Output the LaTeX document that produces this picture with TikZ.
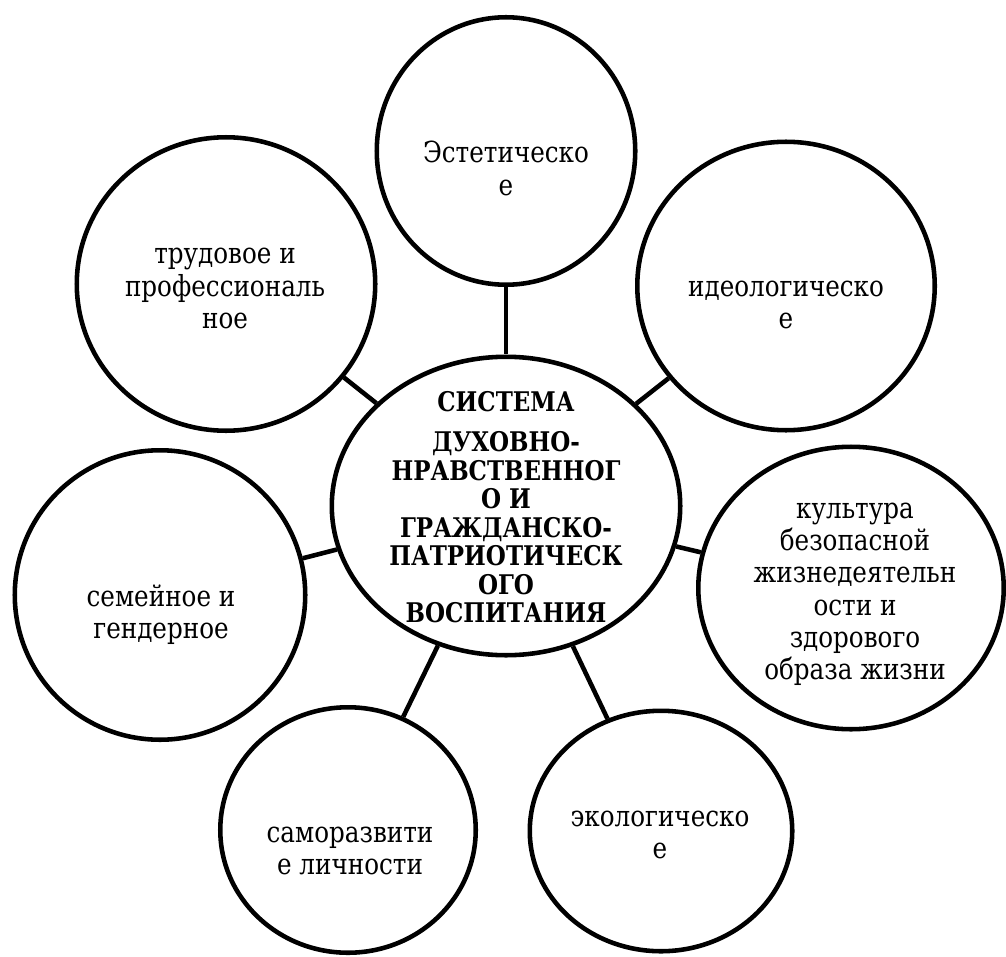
\documentclass[tikz,border=0pt]{standalone}
\usepackage{fontspec}
\setmainfont{DejaVu Serif}[FakeStretch=0.85]
\usetikzlibrary{shapes.geometric}
\tikzset{
  bubble/.style={draw, ellipse, line width=2.6pt, inner sep=0pt},
  lbl/.style={align=center, inner sep=0pt, font=\fontsize{16.5}{18.4}\selectfont},
  hub/.style={align=center, inner sep=0pt, font=\fontsize{15.4}{16.2}\selectfont\bfseries},
  link/.style={line width=2.6pt}
}
\begin{document}
\begin{tikzpicture}[x=0.02cm, y=-0.02cm]
    \useasboundingbox (0,0) rectangle (1006,956);
    % centre
    \node[bubble, minimum width=6.97cm, minimum height=5.97cm] (sys) at (506,506) {};
    \node[hub] (sys-t) at (506,507.2) {СИСТЕМА\\[0.24cm] ДУХОВНО-\\НРАВСТВЕННОГ\\О И\\ГРАЖДАНСКО-\\ПАТРИОТИЧЕСК\\ОГО\\ВОСПИТАНИЯ};
    % directions
    \node[bubble, minimum width=5.17cm, minimum height=5.35cm] (aest) at (506,151) {};
    \node[lbl] (aest-t) at (506,168.6) {Эстетическо\\е};
    \node[bubble, minimum width=5.97cm, minimum height=5.87cm] (trud) at (226,284) {};
    \node[lbl] (trud-t) at (225,288.8) {трудовое и\\профессиональ\\ное};
    \node[bubble, minimum width=5.95cm, minimum height=5.77cm] (ideo) at (786,286) {};
    \node[lbl] (ideo-t) at (786,305.3) {идеологическо\\е};
    \node[bubble, minimum width=6.11cm, minimum height=5.65cm] (kult) at (851,588) {};
    \node[lbl] (kult-t) at (855,594.2) {культура\\безопасной\\жизнедеятельн\\ости и\\здорового\\образа жизни};
    \node[bubble, minimum width=5.81cm, minimum height=5.79cm] (sem) at (160,595) {};
    \node[lbl] (sem-t) at (161,614.5) {семейное и\\гендерное};
    \node[bubble, minimum width=5.11cm, minimum height=4.91cm] (samo) at (348,830) {};
    \node[lbl] (samo-t) at (350,850.8) {саморазвити\\е личности};
    \node[bubble, minimum width=5.25cm, minimum height=4.81cm] (eko) at (661,831) {};
    \node[lbl] (eko-t) at (660,834.7) {экологическо\\е};
    % links
    \foreach \n in {aest,ideo,kult,eko,samo,sem,trud}
        \draw[link] (sys) -- (\n);
\end{tikzpicture}
\end{document}
